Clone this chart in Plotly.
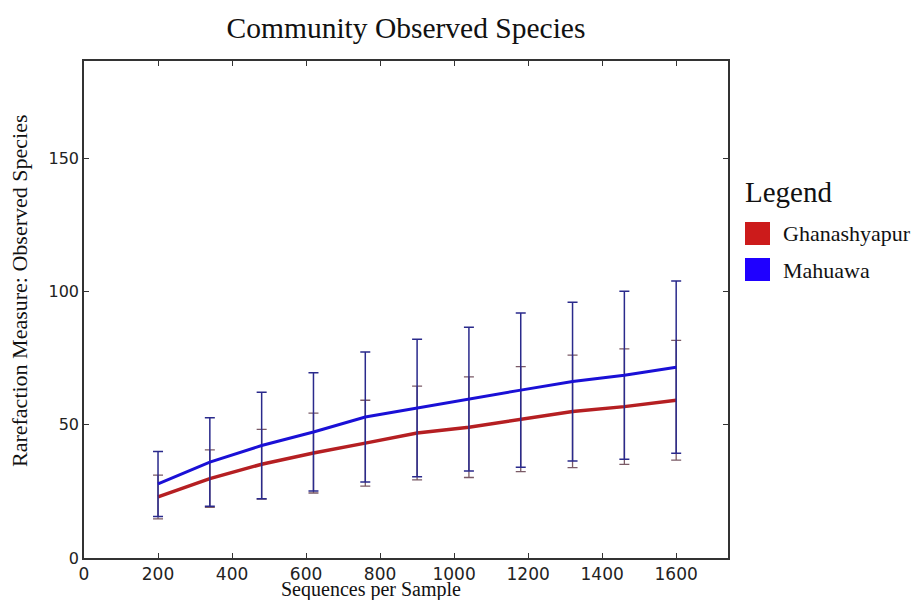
import plotly.graph_objects as go

seqs = [200, 340, 480, 620, 760, 900, 1040, 1180, 1320, 1460, 1600]
ghan_mean = [22.9, 29.8, 35.2, 39.4, 43.1, 46.9, 49.1, 52.1, 55.0, 56.8, 59.2]
ghan_err = [8.2, 10.8, 13.1, 15.0, 16.1, 17.6, 18.9, 19.7, 21.1, 21.7, 22.5]
mahu_mean = [27.8, 36.0, 42.2, 47.3, 52.9, 56.3, 59.6, 63.0, 66.2, 68.6, 71.6]
mahu_err = [12.2, 16.6, 20.0, 22.2, 24.4, 25.8, 27.0, 28.9, 29.8, 31.5, 32.3]
series_names = ["Ghanashyapur", "Mahuawa"]
line_colors = ["#b51f22", "#1a10d6"]
patch_colors = ["#cc1b1b", "#1f00ff"]

fig = go.Figure()
fig.add_trace(go.Scatter(
    x=seqs, y=ghan_mean, mode="lines", name=series_names[0],
    line=dict(color=line_colors[0], width=3.5),
    error_y=dict(type="data", array=ghan_err, visible=True,
                 color="#7a5a66", thickness=1.3, width=5),
    showlegend=False))
fig.add_trace(go.Scatter(
    x=seqs, y=mahu_mean, mode="lines", name=series_names[1],
    line=dict(color=line_colors[1], width=3),
    error_y=dict(type="data", array=mahu_err, visible=True,
                 color="#2a2a8c", thickness=1.5, width=5),
    showlegend=False))

L, R, T, B = 84, 728, 61, 558
W, H = R - L, B - T

def px(x):
    return (x - L) / W

def py(y):
    return (B - y) / H

shapes = []
annotations = []
for i, (name, col) in enumerate(zip(series_names, patch_colors)):
    y0 = 222 + i * 36
    shapes.append(dict(type="rect", xref="paper", yref="paper",
                       x0=px(745), x1=px(770), y0=py(y0 + 23), y1=py(y0),
                       fillcolor=col, line=dict(width=0)))
    annotations.append(dict(text=name, xref="paper", yref="paper",
                            x=px(781), y=py(y0 + 12), xanchor="left", yanchor="middle",
                            showarrow=False,
                            font=dict(family="Liberation Serif", size=22, color="#111")))
annotations.append(dict(text="Legend", xref="paper", yref="paper",
                        x=px(743), y=py(192), xanchor="left", yanchor="middle",
                        showarrow=False,
                        font=dict(family="Liberation Serif", size=29, color="#111")))
# axis titles (offset from the axis centres as in the reference)
annotations.append(dict(text="Sequences per Sample", xref="paper", yref="paper",
                        x=px(371), y=py(589), xanchor="center", yanchor="middle",
                        showarrow=False,
                        font=dict(family="Liberation Serif", size=20, color="#111")))
annotations.append(dict(text="Rarefaction Measure: Observed Species", xref="paper", yref="paper",
                        x=px(19), y=py(291), xanchor="center", yanchor="middle",
                        textangle=-90, showarrow=False,
                        font=dict(family="Liberation Serif", size=22, color="#111")))

axis_common = dict(showline=True, linecolor="#333", linewidth=1.5, mirror="ticks",
                   ticks="inside", ticklen=5, tickcolor="#333", showgrid=False,
                   zeroline=False, automargin=False)

fig.update_layout(
    width=912, height=600,
    margin=dict(l=L, r=912 - R, t=T, b=600 - B),
    paper_bgcolor="white", plot_bgcolor="white",
    title=dict(text="Community Observed Species", x=(L + W / 2) / 912, xanchor="center",
               y=1 - 28 / 600, yanchor="middle", automargin=False,
               font=dict(family="Liberation Serif", size=29.5, color="#111")),
    xaxis=dict(range=[0, 1740], tickvals=[0, 200, 400, 600, 800, 1000, 1200, 1400, 1600],
               tickfont=dict(family="DejaVu Sans", size=17, color="#222"),
               **axis_common),
    yaxis=dict(range=[0, 186.5], tickvals=[0, 50, 100, 150],
               tickfont=dict(family="DejaVu Sans", size=16, color="#222"),
               **axis_common),
    shapes=shapes, annotations=annotations, showlegend=False,
)

fig.write_html("out.html")
